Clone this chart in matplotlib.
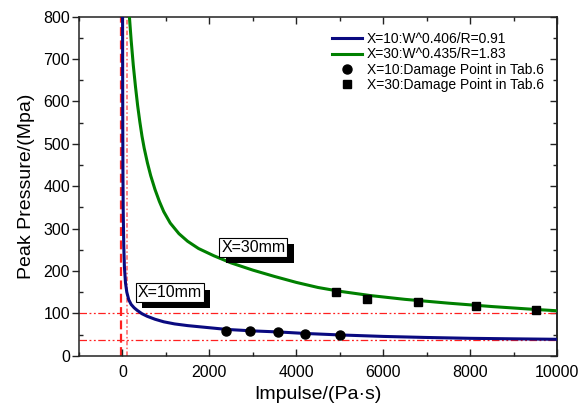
import numpy as np
import matplotlib
matplotlib.use('Agg')
import matplotlib.pyplot as plt
from matplotlib.ticker import MultipleLocator
import matplotlib.patheffects as pe

plt.rcParams['font.family'] = ['Liberation Sans', 'DejaVu Sans']

# curves (impulse, peak pressure)
imp_10 = [3, 5, 8, 12, 18, 30, 45, 70, 100, 145, 200, 270, 340, 450, 570,
          750, 950, 1200, 1500, 2000, 2400, 3000, 3600, 4200, 5000, 6000,
          7000, 8000, 9000, 10000]
pres_10 = [800, 650, 520, 420, 340, 260, 210, 172, 150, 132, 121, 113, 107,
           99, 93, 86, 80, 75, 71, 66, 62, 58.5, 56, 52.5, 49, 45.5, 43, 41,
           39.8, 38.7]

imp_30 = [160, 200, 250, 300, 350, 400, 450, 500, 575, 650, 750, 850, 950,
          1100, 1300, 1500, 1750, 2100, 2500, 3000, 3500, 4000, 4500, 5000,
          5700, 6500, 7500, 8500, 9300, 10000]
pres_30 = [800, 745, 685, 635, 590, 552, 518, 490, 455, 425, 392, 364, 340,
           313, 288, 270, 253, 236, 219, 202, 187, 173, 161, 152, 142, 133,
           124, 116, 110.5, 106]

# damage points from Tab.6
pt_imp_10 = [2390, 2930, 3580, 4210, 5000]
pt_pres_10 = [59, 57.5, 56, 51, 48]
pt_imp_30 = [4920, 5625, 6795, 8140, 9520]
pt_pres_30 = [151, 134, 127, 118, 108.5]

# threshold lines
h_lines = [100, 36]
v_lines = [-30, 105]

fig = plt.figure(figsize=(5.86, 4.08), dpi=100)
ax = fig.add_axes([0.1348, 0.1282, 0.8157, 0.8308])

dash = (0, (6, 2, 1.5, 2, 1.5, 2))
for y in h_lines:
    ax.axhline(y, color='#ff2020', lw=0.9, ls=dash, zorder=1)
ax.axvline(v_lines[0], color='#ff2020', lw=1.6, ls=(0, (4, 2)), zorder=1)
ax.axvline(v_lines[1], color='#ff6060', lw=1.1, ls=(0, (3, 1.5, 1, 1.5)), zorder=1)

ax.plot(imp_10, pres_10, color='#0a0a80', lw=2.2, label='X=10:W^0.406/R=0.91', zorder=3)
ax.plot(imp_30, pres_30, color='#008000', lw=2.2, label='X=30:W^0.435/R=1.83', zorder=3)
ax.plot(pt_imp_10, pt_pres_10, 'o', color='black', ms=6.5, ls='none',
        label='X=10:Damage Point in Tab.6', zorder=4)
ax.plot(pt_imp_30, pt_pres_30, 's', color='black', ms=6, ls='none',
        label='X=30:Damage Point in Tab.6', zorder=4)

# labels with drop shadow
for txt, x, y in [('X=10mm', 361, 131), ('X=30mm', 2276, 238)]:
    t = ax.text(x, y, txt, fontsize=11.5, va='bottom', ha='left', zorder=6,
                bbox=dict(boxstyle='square,pad=0.12', fc='white', ec='black', lw=0.8))
    t.get_bbox_patch().set_path_effects([
        pe.SimplePatchShadow(offset=(4.5, -4.5), shadow_rgbFace='black', alpha=1.0),
        pe.Normal()])

ax.set_xlim(-1000, 10000)
ax.set_ylim(0, 800)
ax.xaxis.set_major_locator(MultipleLocator(2000))
ax.xaxis.set_minor_locator(MultipleLocator(1000))
ax.yaxis.set_major_locator(MultipleLocator(100))
ax.yaxis.set_minor_locator(MultipleLocator(50))

for s in ax.spines.values():
    s.set_linewidth(1.1)
    s.set_color('#222222')

ax.tick_params(axis='both', which='both', labelsize=11.5, color='#222222', width=1.0)
ax.tick_params(axis='x', which='major', direction='in', length=5, pad=7, top=True)
ax.tick_params(axis='x', which='minor', direction='in', length=3, top=True)
ax.tick_params(axis='y', which='major', direction='out', length=5, pad=1.5, right=False)
ax.tick_params(axis='y', which='minor', direction='in', length=3, right=False)

# right side ticks point inward
sec = ax.secondary_yaxis('right')
sec.yaxis.set_major_locator(MultipleLocator(100))
sec.yaxis.set_minor_locator(MultipleLocator(50))
sec.tick_params(which='major', direction='in', length=5, width=1.0, color='#222222',
                labelright=False)
sec.tick_params(which='minor', direction='in', length=3, width=1.0, color='#222222')
sec.spines['right'].set_linewidth(1.1)
sec.spines['right'].set_color('#222222')

ax.set_xlabel('Impulse/(Pa·s)', fontsize=14, labelpad=4)
ax.set_ylabel('Peak Pressure/(Mpa)', fontsize=14, labelpad=6)

ax.legend(loc='upper left', bbox_to_anchor=(0.5287, 0.955), frameon=False,
          fontsize=10, borderpad=0, borderaxespad=0, handlelength=2.2,
          handletextpad=0.35, labelspacing=0.1)

plt.savefig('out.png', dpi=100)
